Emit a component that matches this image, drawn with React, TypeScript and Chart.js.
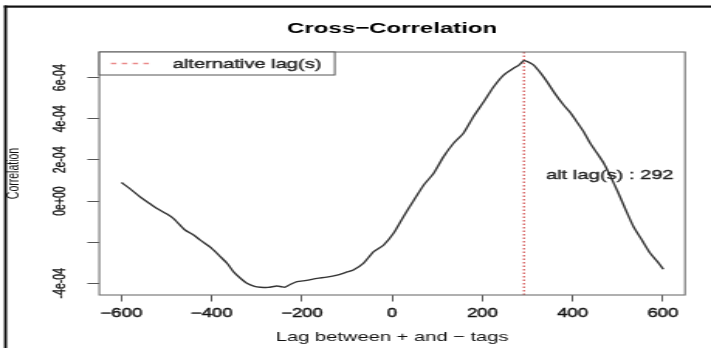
import React, { useEffect, useRef } from "react";
import { Chart, registerables } from "chart.js";

Chart.register(...registerables);

// ---- data ----
const LAGS = [
  -600, -580, -559, -540, -522, -500, -485, -459, -440, -426, -400, -381, -365, -352, -335, -322,
  -305, -292, -275, -255, -245, -237, -225, -211, -190, -166, -145, -122, -100, -86, -64, -41,
  -19, 3, 25, 47, 70, 92, 114, 136, 158, 180, 203, 225, 247, 269, 280, 292,
  300, 313, 330, 343, 360, 380, 395, 409, 425, 439, 455, 469, 485, 500, 518, 535,
  555, 572, 588, 601,
];
const CORR = [
  0.9e-4, 0.58e-4, 0.21e-4, -0.08e-4, -0.35e-4, -0.62e-4, -0.84e-4, -1.41e-4, -1.65e-4, -1.89e-4, -2.3e-4, -2.7e-4, -3.05e-4, -3.43e-4, -3.78e-4, -4.0e-4,
  -4.15e-4, -4.19e-4, -4.2e-4, -4.13e-4, -4.17e-4, -4.19e-4, -4.05e-4, -3.92e-4, -3.86e-4, -3.76e-4, -3.7e-4, -3.6e-4, -3.45e-4, -3.35e-4, -3.03e-4, -2.46e-4,
  -2.14e-4, -1.57e-4, -0.76e-4, 0.0, 0.78e-4, 1.35e-4, 2.16e-4, 2.81e-4, 3.3e-4, 4.1e-4, 4.83e-4, 5.56e-4, 6.13e-4, 6.46e-4, 6.6e-4, 6.83e-4,
  6.78e-4, 6.62e-4, 6.2e-4, 5.81e-4, 5.25e-4, 4.67e-4, 4.3e-4, 3.86e-4, 3.35e-4, 2.81e-4, 2.3e-4, 1.84e-4, 1.15e-4, 0.45e-4, -0.45e-4, -1.25e-4,
  -1.95e-4, -2.54e-4, -2.95e-4, -3.32e-4,
];

const X_TICKS = [-600, -400, -200, 0, 200, 400, 600];
const X_TICK_LABELS = ["\u2212600", "\u2212400", "\u2212200", "0", "200", "400", "600"];
const Y_TICKS = [-4e-4, -2e-4, 0, 2e-4, 4e-4, 6e-4];
const Y_TICK_LABELS = ["-4e-04", "", "0e+00", "2e-04", "4e-04", "6e-04"];
const X_MIN = -649;
const X_MAX = 649;
const Y_MIN = -4.57e-4;
const Y_MAX = 7.25e-4;
const ALT_LAG = 292;
const ANNOT_LAG = 341;
const ANNOT_VALUE = 1.27e-4;

const TITLE = "Cross\u2212Correlation";
const X_TITLE = "Lag between + and \u2212 tags";
const Y_TITLE = "Correlation";
const LEGEND_LABEL = "alternative lag(s)";
const ANNOTATION = "alt lag(s) : " + ALT_LAG;

// ---- layout ----
const CANVAS_W = 459;
const CANVAS_H = 348;
const STRETCH = 711 / CANVAS_W;
const FONT = '"Liberation Sans", Arial, Helvetica, sans-serif';
const TEXT = "#111111";

const decor = {
  id: "decor",
  beforeDraw(chart: any) {
    const ctx = chart.ctx;
    ctx.save();
    ctx.fillStyle = "#ffffff";
    ctx.fillRect(0, 0, chart.width, chart.height);
    ctx.restore();
  },
  afterDatasetsDraw(chart: any) {
    const { ctx, chartArea: ca, scales } = chart;
    ctx.save();
    // plot box
    ctx.strokeStyle = "#707070";
    ctx.lineWidth = 1.1;
    ctx.strokeRect(ca.left, ca.top, ca.right - ca.left, ca.bottom - ca.top);
    // legend box
    const lx = ca.left;
    const ly = ca.top;
    const lw = 152;
    const lh = 23;
    ctx.fillStyle = "#ffffff";
    ctx.fillRect(lx, ly, lw, lh);
    ctx.strokeStyle = "#555555";
    ctx.lineWidth = 1;
    ctx.strokeRect(lx, ly, lw, lh);
    ctx.strokeStyle = "#ea8a8a";
    ctx.lineWidth = 1.3;
    ctx.setLineDash([3.5, 3.5]);
    ctx.beginPath();
    ctx.moveTo(lx + 7.5, ly + 11.5);
    ctx.lineTo(lx + 35.5, ly + 11.5);
    ctx.stroke();
    ctx.setLineDash([]);
    ctx.fillStyle = "#222222";
    ctx.strokeStyle = "#222222";
    ctx.lineWidth = 0.35;
    ctx.font = "13px " + FONT;
    ctx.textAlign = "left";
    ctx.textBaseline = "middle";
    ctx.fillText(LEGEND_LABEL, lx + 47.3, ly + 12);
    ctx.strokeText(LEGEND_LABEL, lx + 47.3, ly + 12);
    // annotation
    const ax = scales.x.getPixelForValue(ANNOT_LAG);
    const ay = scales.y.getPixelForValue(ANNOT_VALUE);
    ctx.fillText(ANNOTATION, ax, ay);
    ctx.strokeText(ANNOTATION, ax, ay);
    ctx.restore();
  },
  afterDraw(chart: any) {
    const ctx = chart.ctx;
    ctx.save();
    ctx.fillStyle = "#111111";
    ctx.fillRect(2.6, 5.5, 1.9, chart.height);
    ctx.fillRect(2.6, 5.5, chart.width, 2.2);
    ctx.restore();
  },
};

export default function App() {
  const ref = useRef<HTMLCanvasElement | null>(null);

  useEffect(() => {
    if (!ref.current) return;
    Chart.defaults.font.family = FONT;
    const chart = new Chart(ref.current, {
      type: "scatter",
      data: {
        datasets: [
          {
            label: "correlation",
            data: LAGS.map((x, i) => ({ x, y: CORR[i] })),
            showLine: true,
            borderColor: "#333333",
            borderWidth: 1.4,
            pointRadius: 0,
            tension: 0.2,
          },
          {
            label: LEGEND_LABEL,
            data: [
              { x: ALT_LAG, y: Y_MIN },
              { x: ALT_LAG, y: Y_MAX },
            ],
            showLine: true,
            borderColor: "#d04848",
            borderWidth: 1.2,
            borderDash: [1.5, 2],
            pointRadius: 0,
          },
        ],
      },
      options: {
        responsive: false,
        animation: false,
        devicePixelRatio: 1,
        events: [],
        layout: { padding: { left: 0, right: CANVAS_W - 442.2, top: 0, bottom: 0 }, autoPadding: false },
        plugins: {
          legend: { display: false },
          tooltip: { enabled: false },
          title: {
            display: true,
            text: TITLE,
            fullSize: false,
            color: "#000000",
            font: { family: FONT, size: 15.5, weight: "bold" },
            padding: { top: 19.7, bottom: 13.7 },
          },
        },
        scales: {
          x: {
            type: "linear",
            min: X_MIN,
            max: X_MAX,
            afterBuildTicks: (s: any) => {
              s.ticks = X_TICKS.map((v) => ({ value: v }));
            },
            afterFit: (s: any) => {
              s.height = 53;
            },
            border: { display: false },
            grid: { display: true, drawOnChartArea: false, drawTicks: true, tickLength: 6.5, color: "#555555", lineWidth: 1 },
            ticks: {
              autoSkip: false,
              maxRotation: 0,
              minRotation: 0,
              padding: 5.3,
              color: TEXT,
              textStrokeColor: TEXT,
              textStrokeWidth: 0.4,
              font: { family: FONT, size: 12 },
              callback: (_v: any, i: number) => X_TICK_LABELS[i],
            },
            title: {
              display: true,
              text: X_TITLE,
              color: TEXT,
              font: { family: FONT, size: 13 },
              padding: { top: 0, bottom: 2.5 },
            },
          },
          y: {
            type: "linear",
            position: "left",
            min: Y_MIN,
            max: Y_MAX,
            afterBuildTicks: (s: any) => {
              s.ticks = Y_TICKS.map((v) => ({ value: v }));
            },
            afterFit: (s: any) => {
              s.width = 64.1;
            },
            border: { display: false },
            grid: { display: true, drawOnChartArea: false, drawTicks: true, tickLength: 7.7, color: "#555555", lineWidth: 1 },
            ticks: {
              autoSkip: false,
              minRotation: 90,
              maxRotation: 90,
              crossAlign: "center",
              padding: 2.5,
              color: TEXT,
              textStrokeColor: TEXT,
              textStrokeWidth: 0.3,
              font: { family: FONT, size: 10.5 },
              callback: (_v: any, i: number) => Y_TICK_LABELS[i],
            },
            title: {
              display: true,
              text: Y_TITLE,
              color: TEXT,
              font: { family: FONT, size: 10.5 },
              padding: { top: 2.6, bottom: 0 },
            },
          },
        },
      } as any,
      plugins: [decor],
    });
    return () => chart.destroy();
  }, []);

  return (
    <div
      style={{
        position: "fixed",
        left: 0,
        top: 0,
        width: 711,
        height: 348,
        overflow: "hidden",
        background: "#ffffff",
      }}
    >
      <canvas
        ref={ref}
        width={CANVAS_W}
        height={CANVAS_H}
        style={{
          width: CANVAS_W + "px",
          height: CANVAS_H + "px",
          transform: `scaleX(${STRETCH})`,
          transformOrigin: "0 0",
          display: "block",
        }}
      />
    </div>
  );
}
